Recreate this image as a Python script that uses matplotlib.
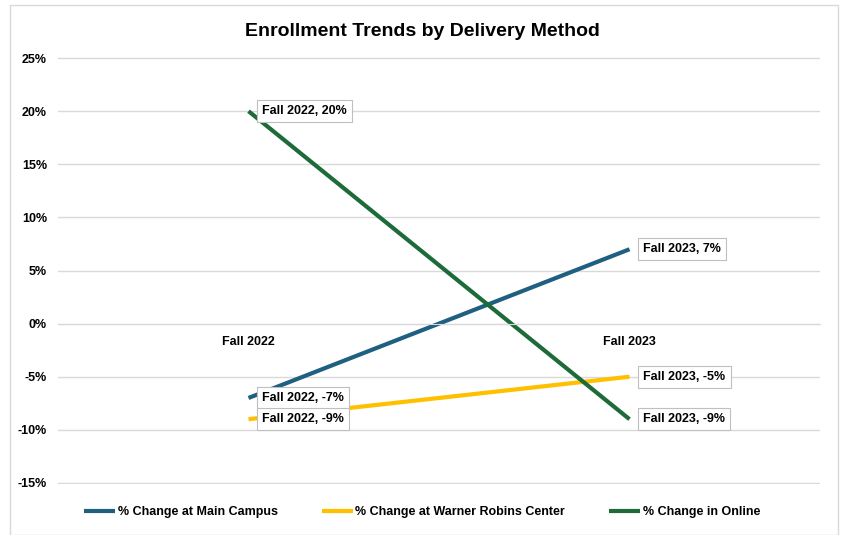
import matplotlib.pyplot as plt
from matplotlib.patches import Rectangle
from matplotlib.ticker import FuncFormatter

terms = ["Fall 2022", "Fall 2023"]
main_campus = [-7, 7]
warner_robins = [-9, -5]
online = [20, -9]

series = [
    ("% Change at Main Campus", main_campus, "#1f5f80"),
    ("% Change at Warner Robins Center", warner_robins, "#ffc000"),
    ("% Change in Online", online, "#1e6b3a"),
]

plt.rcParams['font.family'] = ['Liberation Sans', 'DejaVu Sans']
plt.rcParams['font.weight'] = 'bold'

fig = plt.figure(figsize=(8.44, 5.35), dpi=100)
fig.patches.append(Rectangle((10 / 844, 0), 828 / 844, 530 / 535, transform=fig.transFigure,
                             fill=False, edgecolor="#d9d9d9", linewidth=1))
ax = fig.add_axes([58 / 844, 1 - 484 / 535, 762 / 844, 427 / 535])

x = list(range(len(terms)))
for name, vals, color in series:
    ax.plot(x, vals, color=color, linewidth=3, label=name, solid_capstyle='butt')
    for xi, v in zip(x, vals):
        ax.annotate(f"{terms[xi]}, {v}%", (xi, v), xytext=(10, 0), textcoords="offset points",
                    va="center", ha="left", fontsize=9, fontweight="bold",
                    bbox=dict(boxstyle="square,pad=0.4", fc="white", ec="#bfbfbf", lw=0.8),
                    zorder=5)

ax.set_xlim(-0.5, 1.5)
ax.set_ylim(-15.1, 25.1)
ax.set_yticks(range(-15, 26, 5))
ax.yaxis.set_major_formatter(FuncFormatter(lambda v, p: f"{int(v)}%"))
ax.grid(axis='y', color="#d9d9d9", linewidth=1)
ax.set_axisbelow(True)
for s in ["top", "right", "left"]:
    ax.spines[s].set_visible(False)
ax.spines["bottom"].set_position(("data", 0))
ax.spines["bottom"].set_color("#d9d9d9")
ax.set_xticks(x)
ax.set_xticklabels(terms, fontsize=9, fontweight="bold")
ax.tick_params(axis='x', length=0, pad=9)
ax.tick_params(axis='y', length=0, labelsize=9, pad=8)

fig.text(0.5, 1 - 32 / 535, "Enrollment Trends by Delivery Method", ha="center", va="center",
         fontsize=14, fontweight="bold")
fig.legend(loc="center", bbox_to_anchor=(0.5, 1 - 512 / 535), ncol=3, frameon=False,
           fontsize=9, handlelength=2.5, columnspacing=3.5, handletextpad=0.2)

fig.savefig("out.png", dpi=100)
